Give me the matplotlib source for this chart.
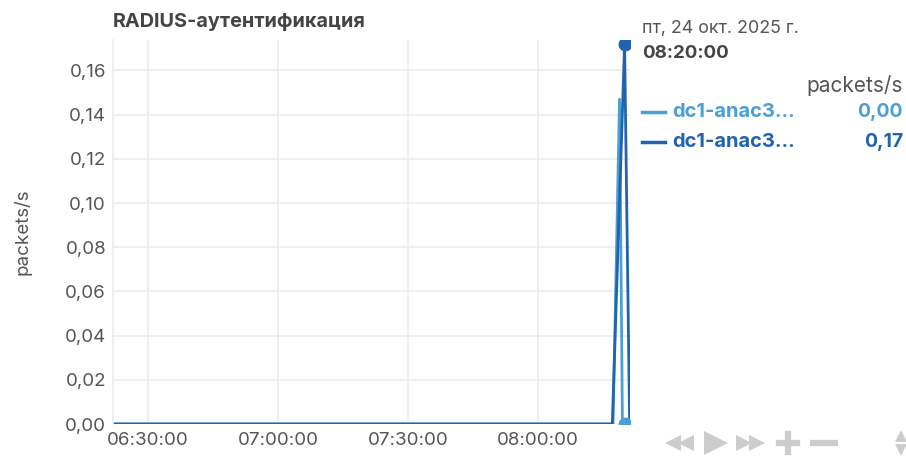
import numpy as np
import pandas as pd
import matplotlib
matplotlib.use('Agg')
import matplotlib.pyplot as plt
import matplotlib.dates as mdates

plt.rcParams['font.family'] = ['Inter', 'DejaVu Sans']

TITLE = 'RADIUS-аутентификация'
UNIT = 'packets/s'
DAY = '2025-10-24 '

# light series (first in legend)
light_t = ['06:22:00', '08:17:20', '08:18:50', '08:19:30', '08:20:00', '08:21:10']
light_v = [0.0, 0.0, 0.147, 0.0, 0.0, 0.0]
# dark series
dark_t = ['06:22:00', '08:17:10', '08:20:00', '08:21:10']
dark_v = [0.0, 0.0, 0.172, 0.0]

series_names = ['dc1-anac3...', 'dc1-anac3...']
cursor_time = '08:20:00'
cursor_vals = [0.0, 0.17]
xticks = ['06:30:00', '07:00:00', '07:30:00', '08:00:00']
yticks = [0.0, 0.02, 0.04, 0.06, 0.08, 0.10, 0.12, 0.14, 0.16]

LIGHT = '#4a9fd3'
DARK = '#2163ae'
TXT = '#555555'
ICON = '#cccccc'

def ts(s):
    return pd.to_datetime([DAY + x for x in s])

fig = plt.figure(figsize=(9.06, 4.57), dpi=100)
ax = fig.add_axes([113/906, 1 - 424/457, 517/906, 384/457])

ax.plot(ts(light_t), light_v, color=LIGHT, lw=2, solid_joinstyle='round')
ax.plot(ts(dark_t), dark_v, color=DARK, lw=2, solid_joinstyle='round')

ct = ts([cursor_time])
ax.plot(ct, [cursor_vals[0]], 'o', color=LIGHT, ms=9, clip_on=True, zorder=5)
ax.plot(ct, [dark_v[2]], 'o', color=DARK, ms=9, clip_on=True, zorder=5)

ax.set_xlim(pd.Timestamp(DAY + '06:21:55'), pd.Timestamp(DAY + '08:21:15'))
ax.set_ylim(0, 0.1738)
ax.set_xticks(ts(xticks))
ax.xaxis.set_major_formatter(mdates.DateFormatter('%H:%M:%S'))
ax.set_yticks(yticks)
ax.set_yticklabels([f'{v:.2f}'.replace('.', ',') for v in yticks])
ax.tick_params(axis='both', colors=TXT, labelsize=13.5, length=0, pad=5)
ax.tick_params(axis='x', pad=6)
ax.grid(True, color='#ececec', lw=1.2)
ax.set_axisbelow(True)
for side in ['top', 'right', 'bottom']:
    ax.spines[side].set_visible(False)
ax.spines['left'].set_color('#ececec')
ax.spines['left'].set_linewidth(1.2)

ax.set_ylabel(UNIT, color=TXT, fontsize=13.5, labelpad=24)
fig.text(113/906, 1 - 22/457, TITLE, fontsize=14.3, fontweight='bold',
         color='#444444', va='center', ha='left')

# cursor legend panel
fig.text(642/906, 1 - 28/457, 'пт, 24 окт. 2025 г.', fontsize=12.9, color=TXT, va='center')
fig.text(642/906, 1 - 54/457, cursor_time, fontsize=13.5, fontweight='bold', color='#444444', va='center')
fig.text(903/906, 1 - 86/457, UNIT, fontsize=15, color=TXT, va='center', ha='right')
for i, (name, val, col) in enumerate(zip(series_names, cursor_vals, [LIGHT, DARK])):
    y = 1 - (112 + 30*i)/457
    fig.add_artist(plt.Line2D([642/906, 665/906], [y, y], color=col, lw=2.5))
    fig.text(672/906, y, name, fontsize=14.5, fontweight='bold', color=col, va='center')
    fig.text(903/906, y, f'{val:.2f}'.replace('.', ','), fontsize=14, fontweight='bold',
             color=col, va='center', ha='right')

# navigation controls (icons drawn as markers)
cy = 1 - 443/457
def icon(x, y, marker, ms):
    fig.add_artist(plt.Line2D([x/906], [y], marker=marker, ms=ms, color=ICON, mew=0, ls='none'))

icon(673, cy, '<', 11)
icon(686, cy, '<', 11)
icon(716, cy, '>', 17)
icon(744, cy, '>', 11)
icon(757, cy, '>', 11)
fig.add_artist(plt.Line2D([779/906, 797/906], [cy, cy], color=ICON, lw=4.5))
fig.add_artist(plt.Line2D([788/906, 788/906], [cy - 9/457, cy + 9/457], color=ICON, lw=4.5))
fig.add_artist(plt.Line2D([813/906, 835/906], [cy, cy], color=ICON, lw=4.5))
icon(901, 1 - 436/457, '^', 8)
icon(901, 1 - 450/457, 'v', 8)

fig.savefig('out.png', dpi=100)
